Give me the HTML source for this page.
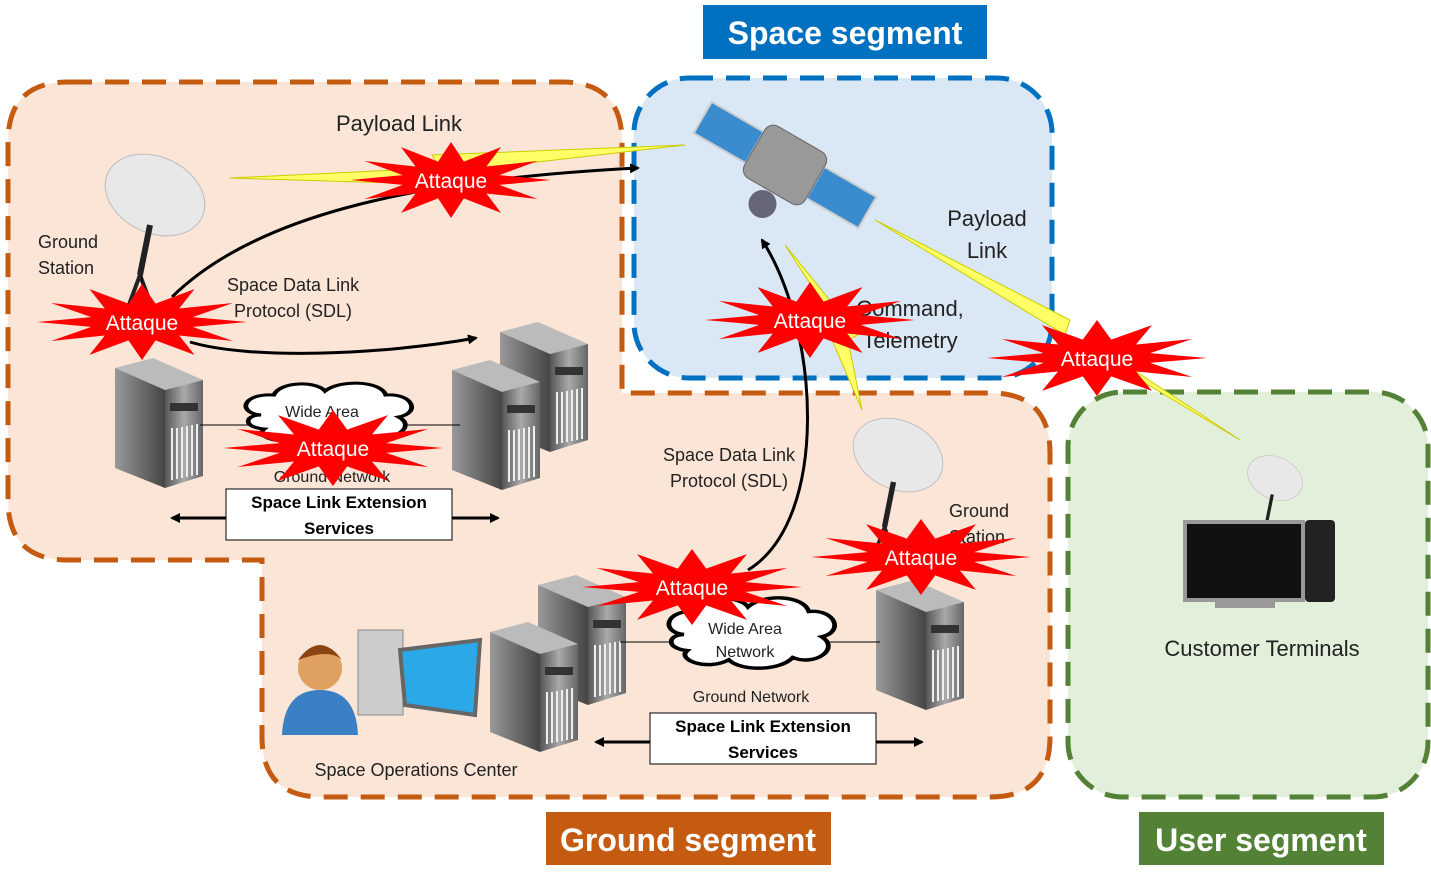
<!DOCTYPE html>
<html><head><meta charset="utf-8"><style>
html,body{margin:0;padding:0;background:#fff}
svg{display:block;font-family:"Liberation Sans",sans-serif}
</style></head><body>
<svg width="1431" height="884" viewBox="0 0 1431 884" xmlns="http://www.w3.org/2000/svg">
<defs>
<polygon id="star" points="1,0 .483,.129 .866,.5 .354,.354 .5,.866 .129,.483 0,1 -.129,.483 -.5,.866 -.354,.354 -.866,.5 -.483,.129 -1,0 -.483,-.129 -.866,-.5 -.354,-.354 -.5,-.866 -.129,-.483 0,-1 .129,-.483 .5,-.866 .354,-.354 .866,-.5 .483,-.129" fill="#f00"/>
<linearGradient id="sf" x1="0" x2="1"><stop offset="0" stop-color="#555"/><stop offset=".5" stop-color="#aaa"/><stop offset="1" stop-color="#666"/></linearGradient>
<linearGradient id="ss" x1="0" x2="1"><stop offset="0" stop-color="#999"/><stop offset="1" stop-color="#444"/></linearGradient>
<g id="server">
<polygon points="0,10 38,0 88,22 50,32" fill="#bbb"/>
<polygon points="0,10 50,32 50,130 0,110" fill="url(#ss)"/>
<polygon points="50,32 88,22 88,118 50,130" fill="url(#sf)"/>
<rect x="55" y="45" width="28" height="8" fill="#333"/>
<g stroke="#eee" stroke-width="2"><line x1="57" y1="70" x2="57" y2="122"/><line x1="62" y1="70" x2="62" y2="121"/><line x1="67" y1="69" x2="67" y2="120"/><line x1="72" y1="68" x2="72" y2="119"/><line x1="77" y1="67" x2="77" y2="118"/><line x1="82" y1="66" x2="82" y2="117"/></g>
</g>
<g id="dish">
<ellipse cx="0" cy="0" rx="52" ry="38" fill="#e8e8e8" stroke="#bbb" transform="rotate(25)"/>
<line x1="-5" y1="30" x2="-15" y2="80" stroke="#222" stroke-width="6"/>
<line x1="-15" y1="80" x2="-28" y2="115" stroke="#222" stroke-width="4"/>
<line x1="-15" y1="80" x2="-2" y2="115" stroke="#222" stroke-width="4"/>
</g>
<marker id="ah" markerWidth="10" markerHeight="10" refX="8" refY="5" orient="auto" markerUnits="userSpaceOnUse"><path d="M0,0 L10,5 L0,10 z" fill="#000"/></marker>
<g id="cloud"><path d="M10,30 C-5,28 -2,8 18,10 C22,-4 45,-4 50,6 C60,-6 85,-4 88,10 C105,8 110,28 96,32 C108,42 92,58 78,50 C70,62 45,62 38,52 C25,62 5,52 12,44 C-2,42 0,30 10,30 z" fill="#fff" stroke="#000" stroke-width="3"/></g>
</defs>

<!-- ground region -->
<path d="M68,82 H562 Q622,82 622,142 V393 H990 Q1050,393 1050,453 V737 Q1050,797 990,797 H322 Q262,797 262,737 V560 H68 Q8,560 8,500 V142 Q8,82 68,82 z" fill="#fbe5d6" stroke="#c55a11" stroke-width="5" stroke-dasharray="24,13"/>
<!-- space -->
<rect x="634" y="78" width="418" height="300" rx="55" fill="#dae8f5" stroke="#0070c0" stroke-width="5" stroke-dasharray="24,13"/>
<!-- user -->
<rect x="1068" y="392" width="360" height="405" rx="55" fill="#e2efda" stroke="#538135" stroke-width="5" stroke-dasharray="24,13"/>

<!-- labels -->
<rect x="703" y="5" width="284" height="54" fill="#0070c0"/>
<text x="845" y="44" font-size="32" font-weight="bold" fill="#fff" text-anchor="middle">Space segment</text>
<rect x="546" y="812" width="285" height="53" fill="#c55a11"/>
<text x="688" y="851" font-size="32" font-weight="bold" fill="#fff" text-anchor="middle">Ground segment</text>
<rect x="1139" y="812" width="245" height="53" fill="#538135"/>
<text x="1261" y="851" font-size="32" font-weight="bold" fill="#fff" text-anchor="middle">User segment</text>

<!-- lightning -->
<polygon points="230,178 440,168 432,155 685,145 450,172 460,185" fill="#ffff66" stroke="#cc0" stroke-width="1"/>
<polygon points="875,220 1070,320 1065,335 1240,440 1085,338 1090,350" fill="#ffff66" stroke="#cc0" stroke-width="1"/>
<polygon points="785,245 840,330 830,335 862,410 848,340 858,335" fill="#ffff66" stroke="#cc0" stroke-width="1"/>

<!-- satellite -->
<g transform="translate(785,165) rotate(30)">
<rect x="-95" y="-18" width="60" height="36" fill="#3a8ccf" stroke="#ccc" stroke-width="2"/>
<rect x="35" y="-18" width="60" height="36" fill="#3a8ccf" stroke="#ccc" stroke-width="2"/>
<rect x="-35" y="-30" width="70" height="60" rx="10" fill="#999" stroke="#666"/>
<circle cx="0" cy="45" r="14" fill="#667"/>
</g>

<!-- dishes -->
<use href="#dish" transform="translate(155,195)"/>
<use href="#dish" transform="translate(898,455) scale(.9)"/>
<use href="#dish" transform="translate(1275,478) scale(.55)"/>

<!-- servers -->
<use href="#server" transform="translate(115,358)"/>
<use href="#server" transform="translate(500,322)"/>
<use href="#server" transform="translate(452,360)"/>
<use href="#server" transform="translate(538,575)"/>
<use href="#server" transform="translate(490,622)"/>
<use href="#server" transform="translate(876,580)"/>

<line x1="142" y1="275" x2="142" y2="358" stroke="#000"/>
<line x1="200" y1="425" x2="460" y2="425" stroke="#000"/>
<line x1="620" y1="642" x2="880" y2="642" stroke="#000"/>
<use href="#cloud" transform="translate(245,385) scale(1.6,1)"/>
<use href="#cloud" transform="translate(668,600) scale(1.6,1.15)"/>

<!-- person/computer -->
<circle cx="320" cy="668" r="22" fill="#e0a060"/>
<path d="M298,660 Q320,630 342,660 Q330,648 298,660z" fill="#8b4513"/>
<path d="M282,735 Q284,690 320,690 Q356,690 358,735 z" fill="#3b7fc4"/>
<rect x="358" y="630" width="45" height="85" fill="#ccc" stroke="#888"/>
<polygon points="400,650 480,640 475,715 405,705" fill="#2aa8e8" stroke="#666" stroke-width="4"/>
<!-- TV -->
<rect x="1185" y="522" width="118" height="78" fill="#111" stroke="#999" stroke-width="4"/>
<rect x="1215" y="600" width="60" height="8" fill="#999"/>
<rect x="1305" y="520" width="30" height="82" rx="4" fill="#222"/>

<!-- arrows -->
<g fill="none" stroke="#000" stroke-width="3">
<path d="M172,297 C250,220 400,180 638,168" marker-end="url(#ah)"/>
<path d="M190,342 C250,360 380,355 476,338" marker-end="url(#ah)"/>
<path d="M748,570 C830,520 820,330 762,240" marker-end="url(#ah)"/>
<path d="M226,518 H172" marker-end="url(#ah)"/>
<path d="M452,518 H498" marker-end="url(#ah)"/>
<path d="M650,742 H596" marker-end="url(#ah)"/>
<path d="M876,742 H922" marker-end="url(#ah)"/>
</g>
<rect x="226" y="489" width="226" height="51" fill="#fff" stroke="#000"/>
<text x="339" y="508" font-size="17" font-weight="bold" text-anchor="middle">Space Link Extension</text>
<text x="339" y="534" font-size="17" font-weight="bold" text-anchor="middle">Services</text>
<rect x="650" y="713" width="226" height="51" fill="#fff" stroke="#000"/>
<text x="763" y="732" font-size="17" font-weight="bold" text-anchor="middle">Space Link Extension</text>
<text x="763" y="758" font-size="17" font-weight="bold" text-anchor="middle">Services</text>

<!-- text -->
<g font-size="18" fill="#222">
<text x="399" y="131" font-size="22" text-anchor="middle">Payload Link</text>
<text x="38" y="248">Ground</text><text x="38" y="274">Station</text>
<text x="227" y="291">Space Data Link</text><text x="234" y="317">Protocol (SDL)</text>
<text x="322" y="417" font-size="16" text-anchor="middle">Wide Area</text>
<text x="332" y="482" font-size="16" text-anchor="middle">Ground Network</text>
<text x="987" y="226" font-size="22" text-anchor="middle">Payload</text>
<text x="987" y="258" font-size="22" text-anchor="middle">Link</text>
<text x="910" y="316" font-size="22" text-anchor="middle">Command,</text>
<text x="910" y="348" font-size="22" text-anchor="middle">Telemetry</text>
<text x="729" y="461" text-anchor="middle">Space Data Link</text>
<text x="729" y="487" text-anchor="middle">Protocol (SDL)</text>
<text x="949" y="517">Ground</text><text x="949" y="543">Station</text>
<text x="745" y="634" font-size="16" text-anchor="middle">Wide Area</text>
<text x="745" y="657" font-size="16" text-anchor="middle">Network</text>
<text x="751" y="702" font-size="16" text-anchor="middle">Ground Network</text>
<text x="416" y="776" text-anchor="middle">Space Operations Center</text>
<text x="1262" y="656" font-size="22" text-anchor="middle">Customer Terminals</text>
</g>

<!-- attaque stars -->
<g font-size="21" fill="#fff" text-anchor="middle">
<use href="#star" transform="translate(451,180) scale(100,38)"/><text x="451" y="188">Attaque</text>
<use href="#star" transform="translate(142,322) scale(105,38)"/><text x="142" y="330">Attaque</text>
<use href="#star" transform="translate(333,448) scale(110,38)"/><text x="333" y="456">Attaque</text>
<use href="#star" transform="translate(810,320) scale(105,38)"/><text x="810" y="328">Attaque</text>
<use href="#star" transform="translate(1097,358) scale(110,38)"/><text x="1097" y="366">Attaque</text>
<use href="#star" transform="translate(692,587) scale(110,38)"/><text x="692" y="595">Attaque</text>
<use href="#star" transform="translate(921,557) scale(110,38)"/><text x="921" y="565">Attaque</text>
</g>
</svg>
</body></html>
